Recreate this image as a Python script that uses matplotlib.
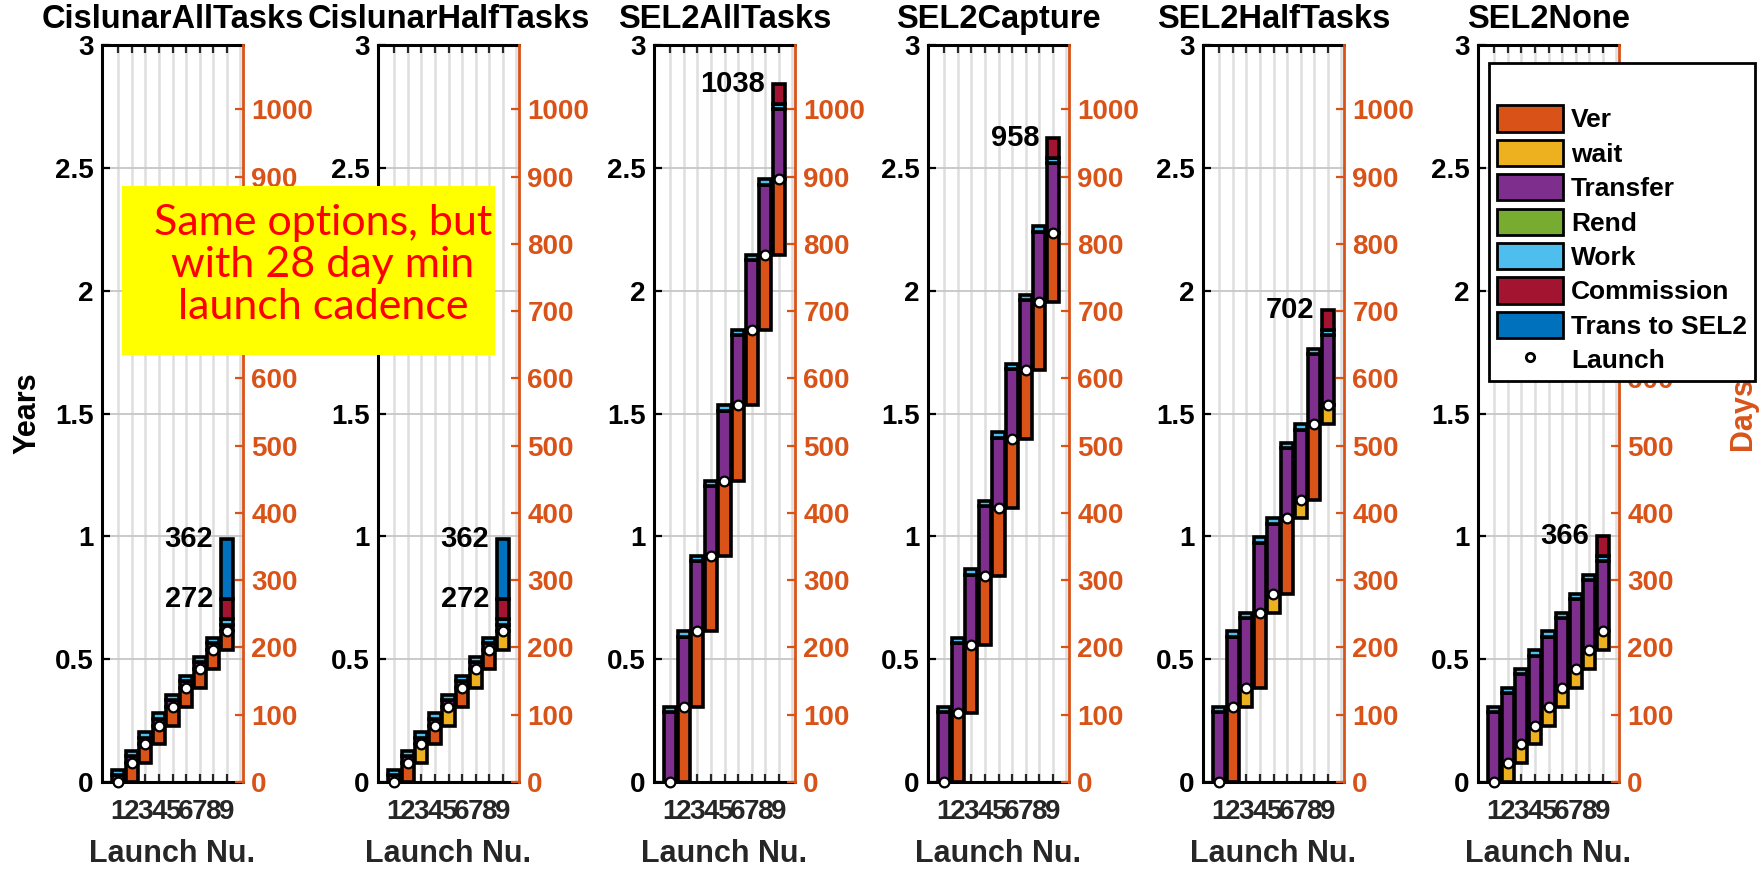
import matplotlib
matplotlib.use("Agg")
import matplotlib.pyplot as plt
from matplotlib.patches import Patch, Rectangle
from matplotlib.lines import Line2D

plt.rcParams['font.family'] = ['Liberation Sans', 'DejaVu Sans']
plt.rcParams['font.weight'] = 'bold'

# ---- data (days) ----
titles = ['CislunarAllTasks', 'CislunarHalfTasks', 'SEL2AllTasks',
          'SEL2Capture', 'SEL2HalfTasks', 'SEL2None']
launch_nums = [1, 2, 3, 4, 5, 6, 7, 8, 9]

launch_days = [
    [0, 28, 56, 84, 112, 140, 168, 196, 224],
    [0, 28, 56, 84, 112, 140, 168, 196, 224],
    [0, 112, 224, 336, 448, 560, 672, 784, 896],
    [0, 102, 204, 306, 408, 510, 612, 714, 816],
    [0, 112, 140, 252, 280, 392, 420, 532, 560],
    [0, 28, 56, 84, 112, 140, 168, 196, 224],
]
ver_days = [
    [0, 28, 28, 28, 28, 28, 28, 28, 28],
    [0, 28, 0, 28, 0, 28, 0, 28, 0],
    [0, 112, 112, 112, 112, 112, 112, 112, 112],
    [0, 102, 102, 102, 102, 102, 102, 102, 102],
    [0, 112, 0, 112, 0, 112, 0, 112, 0],
    [0, 0, 0, 0, 0, 0, 0, 0, 0],
]
wait_days = [
    [0, 0, 0, 0, 0, 0, 0, 0, 0],
    [0, 0, 28, 0, 28, 0, 28, 0, 28],
    [0, 0, 0, 0, 0, 0, 0, 0, 0],
    [0, 0, 0, 0, 0, 0, 0, 0, 0],
    [0, 0, 28, 0, 28, 0, 28, 0, 28],
    [0, 28, 28, 28, 28, 28, 28, 28, 28],
]
transfer_days = [10, 10, 104, 104, 104, 104]
rend_days = [0, 0, 0, 0, 0, 0]
work_days = [8, 8, 8, 8, 8, 8]
commission_days = [30, 30, 30, 30, 30, 30]   # last launch only
trans_sel2_days = [90, 90, 0, 0, 0, 0]       # last launch only
end_labels = [[272, 362], [272, 362], [1038], [958], [702], [366]]

seg_names = ['Ver', 'wait', 'Transfer', 'Rend', 'Work', 'Commission', 'Trans to SEL2']
seg_colors = ['#D95319', '#EDB120', '#7E2F8E', '#77AC30', '#4DBEEE', '#A2142F', '#0072BD']

W, H = 1759, 871
ax_left_px = [102, 378, 654, 928, 1203, 1478]
ax_w_px = 141
ax_bottom_px, ax_top_px = 782, 45
orange = '#D95319'
dark = '#262626'
YR = 365.25

fig = plt.figure(figsize=(W / 100, H / 100), dpi=100)

for p in range(6):
    ax = fig.add_axes([ax_left_px[p] / W, (H - ax_bottom_px) / H,
                       ax_w_px / W, (ax_bottom_px - ax_top_px) / H])
    ax.set_xlim(-0.2, 10.2)
    ax.set_ylim(0, 3)
    ax.set_xticks(launch_nums)
    ax.set_xticklabels([str(n) for n in launch_nums])
    ax.set_xticks([10], minor=True)
    ax.set_yticks([0, 0.5, 1, 1.5, 2, 2.5, 3])
    ax.set_yticklabels(['0', '0.5', '1', '1.5', '2', '2.5', '3'])
    ax.tick_params(axis='x', which='major', direction='in', top=True, length=6,
                   width=1.6, labelsize=20, colors=dark, pad=12)
    ax.tick_params(axis='x', which='minor', length=0)
    ax.tick_params(axis='y', direction='in', length=6, width=1.6,
                   labelsize=20, colors='k', pad=6)
    ax.grid(True, axis='x', which='both', color='#dedede', lw=1.8)
    ax.grid(True, axis='y', which='major', color='#c6c6c6', lw=1.3)
    ax.set_axisbelow(True)
    for s in ['left', 'top', 'bottom']:
        ax.spines[s].set_linewidth(2.2)
        ax.spines[s].set_color('k')
    ax.spines['right'].set_visible(False)
    ax.set_title(titles[p], fontsize=23.5, fontweight='bold', pad=12)
    ax.set_xlabel('Launch Nu.', fontsize=22, fontweight='bold', color=dark, labelpad=10)
    if p == 0:
        ax.set_ylabel('Years', fontsize=22, fontweight='bold', labelpad=9)

    ax2 = ax.twinx()
    ax2.set_ylim(0, 3 * YR)
    ax2.set_yticks(range(0, 1001, 100))
    ax2.tick_params(axis='y', direction='in', length=6, width=1.6,
                    labelsize=20, colors=orange, pad=6)
    for s in ['left', 'top', 'bottom']:
        ax2.spines[s].set_visible(False)
    ax2.spines['right'].set_color(orange)
    ax2.spines['right'].set_linewidth(2.0)
    if p == 5:
        ax2.set_ylabel('Days', fontsize=22, fontweight='bold', color=orange, labelpad=28)

    # stacked floating bars
    launch = launch_days[p]
    n = len(launch_nums)
    segs = []
    for i in range(n):
        last = (i == n - 1)
        segs.append([ver_days[p][i], wait_days[p][i], transfer_days[p],
                     rend_days[p], work_days[p],
                     commission_days[p] if last else 0,
                     trans_sel2_days[p] if last else 0])
    bottoms = [launch[i] - ver_days[p][i] - wait_days[p][i] for i in range(n)]
    for k in range(len(seg_names)):
        xs, hs, bs = [], [], []
        for i in range(n):
            h = segs[i][k]
            if h > 0:
                xs.append(launch_nums[i])
                hs.append(h)
                bs.append(bottoms[i])
            bottoms[i] += h
        if xs:
            ax2.bar(xs, hs, bottom=bs, width=0.9, color=seg_colors[k],
                    edgecolor='k', linewidth=2.6, zorder=2)
    ax2.plot(launch_nums, launch, ls='none', marker='o', mfc='w', mec='k',
             ms=7, mew=1.6, clip_on=False, zorder=4)
    for v in end_labels[p]:
        ax2.text(launch_nums[-1] - 1.0, v, str(v), ha='right', va='center',
                 fontsize=21, fontweight='bold', color='k', zorder=5)

# legend (first entry is the empty base series)
handles = [Patch(facecolor='none', edgecolor='none')]
handles += [Patch(facecolor=c, edgecolor='k', linewidth=2) for c in seg_colors]
handles += [Line2D([], [], ls='none', marker='o', mfc='w', mec='k', ms=6, mew=2)]
labels = [''] + seg_names + ['Launch']
leg = fig.legend(handles, labels, loc='upper left',
                 bbox_to_anchor=(1489 / W, 1 - 63 / H), borderaxespad=0,
                 prop={'weight': 'bold', 'size': 19}, handlelength=2.5,
                 handleheight=1.15, handletextpad=0.3, labelspacing=0.28,
                 borderpad=0.3, fancybox=False, framealpha=1, edgecolor='k')
leg.get_frame().set_linewidth(2)

# yellow note box
x0, x1, y0, y1 = 122, 495, 186, 355
fig.add_artist(Rectangle((x0 / W, 1 - y1 / H), (x1 - x0) / W, (y1 - y0) / H,
                         transform=fig.transFigure, facecolor='#FFFF00',
                         edgecolor='none', zorder=6))
fig.text(323 / W, 1 - 265 / H,
         'Same options, but\nwith 28 day min\nlaunch cadence',
         ha='center', va='center', color='#FF0000', fontsize=31,
         family=['Lato', 'DejaVu Sans'], fontweight='normal',
         linespacing=1.12, zorder=7)

fig.savefig('out.png', dpi=100)
